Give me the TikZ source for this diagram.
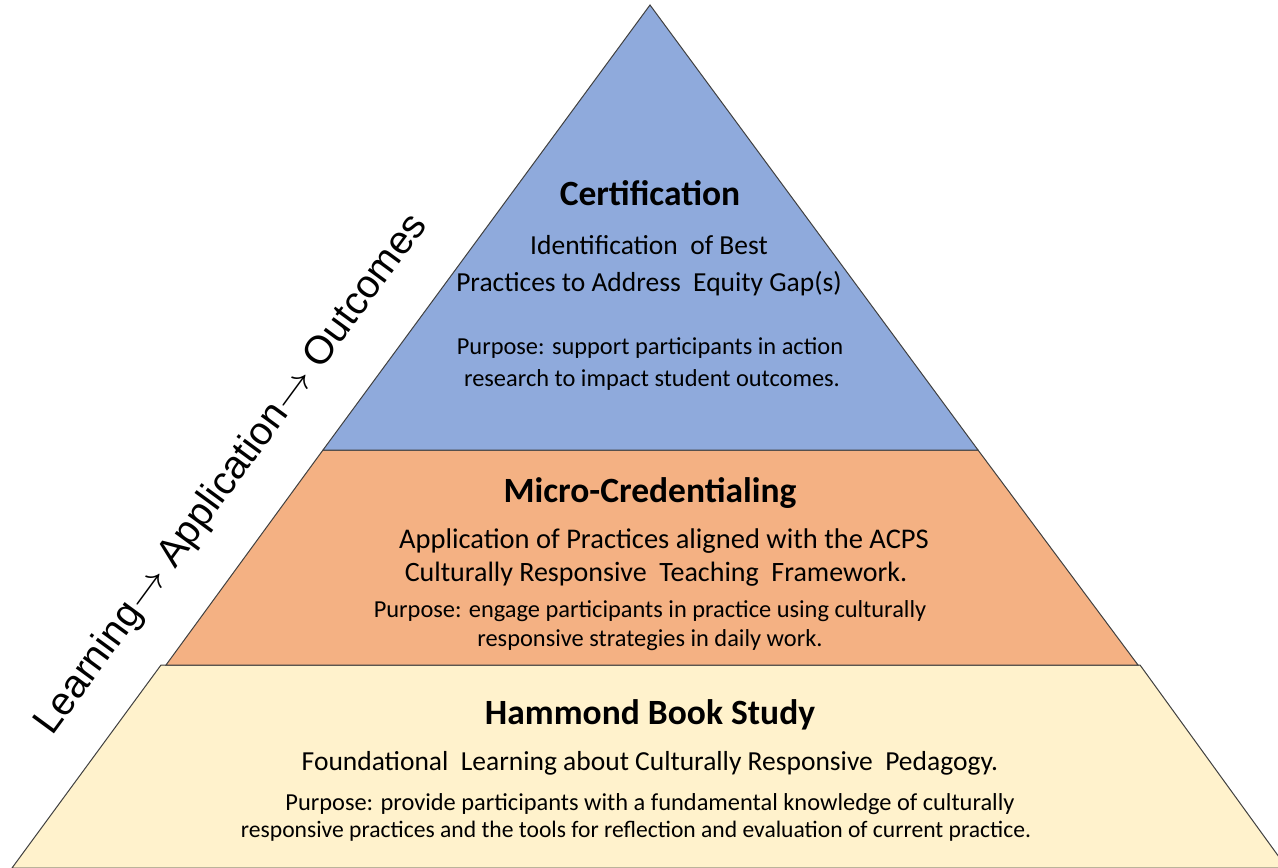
\documentclass[tikz,border=0pt]{standalone}
\usepackage{fontspec}
\setmainfont{Carlito}
\newfontfamily\arialfont{Liberation Sans}
\definecolor{tierblue}{HTML}{8FAADC}
\definecolor{tierorange}{HTML}{F4B183}
\definecolor{tieryellow}{HTML}{FFF2CC}
\definecolor{edgegray}{HTML}{404040}
\newcommand{\longarr}{{\fontsize{10}{12}\selectfont\scalebox{4.3}[3.8]{$\rightarrow$}}}
\tikzset{
  tier/.style={draw=edgegray, line width=1pt, line join=miter},
  ttl/.style={font=\fontsize{35.5}{40}\selectfont\bfseries, anchor=base, inner sep=0pt},
  sub/.style={font=\fontsize{27.5}{32}\selectfont, anchor=base, inner sep=0pt},
  purp/.style={font=\fontsize{24.4}{28}\selectfont, anchor=base, inner sep=0pt},
}
\begin{document}
\begin{tikzpicture}[x=1pt,y=-1pt]
\useasboundingbox (0,0) rectangle (1278,868);
\fill[white] (0,0) rectangle (1278,868);
% tiers
\filldraw[tier, fill=tieryellow] (161,665) -- (1140,665) -- (1287,868) -- (12,868) -- cycle;
\filldraw[tier, fill=tierorange] (323,450) -- (978,450) -- (1138,665) -- (166,665) -- cycle;
\filldraw[tier, fill=tierblue] (650,5) -- (978,450) -- (323,450) -- cycle;
% Certification
\node[ttl] (c1) at (650,205) {Certification};
\node[sub] (c2) at (649,254) {Identification\ \ of Best};
\node[sub] (c3) at (649,291) {Practices to Address\ \ Equity Gap(s)};
\node[purp] (c4) at (650,354) {Purpose: support participants in action};
\node[purp] (c5) at (652,386) {research to impact student outcomes.};
% Micro-Credentialing
\node[ttl] (m1) at (650,502) {Micro-Credentialing};
\node[sub, font=\fontsize{28.5}{32}\selectfont] (m2) at (664,548) {Application of Practices aligned with the ACPS};
\node[sub, font=\fontsize{28}{32}\selectfont] (m3) at (656,581) {Culturally Responsive\ \ Teaching\ \ Framework.};
\node[purp] (m4) at (650,617) {Purpose: engage participants in practice using culturally};
\node[purp] (m5) at (650,646) {responsive strategies in daily work.};
% Hammond
\node[ttl] (h1) at (650,724) {Hammond Book Study};
\node[sub] (h2) at (650,770) {Foundational\ \ Learning about Culturally Responsive\ \ Pedagogy.};
\node[purp] (h3) at (650,810) {Purpose: provide participants with a fundamental knowledge of culturally};
\node[purp, font=\fontsize{23.6}{28}\selectfont] (h4) at (636,837) {responsive practices and the tools for reflection and evaluation of current practice.};
% side label
\node[font=\arialfont\fontsize{39.5}{44}\selectfont, anchor=base west, inner sep=0pt, rotate=53.7] (side) at (52,737) {Learning\longarr{} Application\longarr{} Outcomes};
\end{tikzpicture}
\end{document}
